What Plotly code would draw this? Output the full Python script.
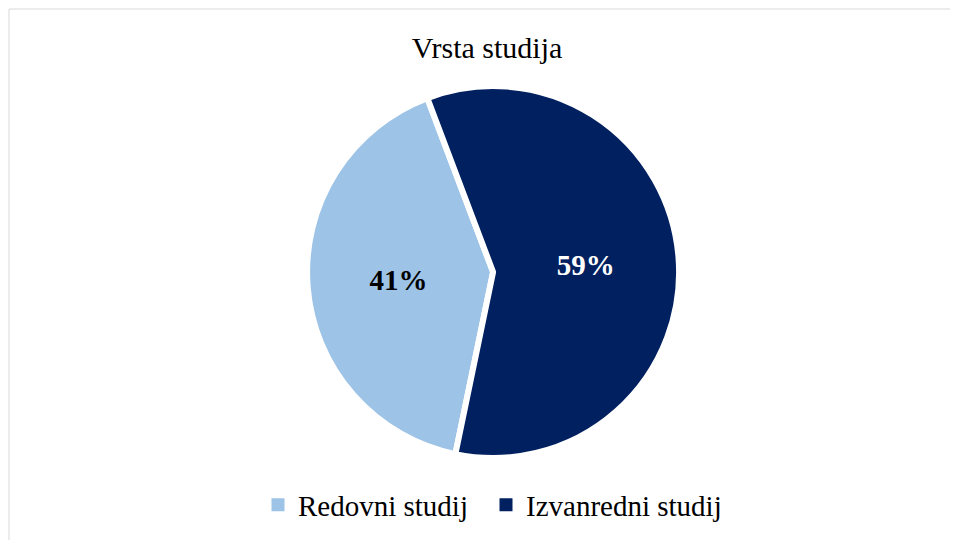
import plotly.graph_objects as go

labels = ["Redovni studij", "Izvanredni studij"]
values = [41, 59]
colors = ["#9DC3E6", "#002060"]
text_colors = ["#000000", "#FFFFFF"]

SERIF = "Liberation Serif, Times New Roman, serif"

fig = go.Figure()
fig.add_trace(go.Pie(
    labels=labels,
    values=values,
    sort=False,
    direction="clockwise",
    rotation=191.7,
    marker=dict(colors=colors, line=dict(color="white", width=6)),
    texttemplate="<b>%{percent:.0%}</b>",
    textposition="inside",
    insidetextorientation="horizontal",
    textfont=dict(family=SERIF, size=29, color=text_colors),
    domain=dict(x=[0.3122, 0.7005], y=[0.166, 0.856]),
    hoverinfo="label+percent",
    showlegend=False,
))

# legend entries (square swatches), one legend box per entry
legend_names = ["legend", "legend2"]
for lab, col, lg in zip(labels, colors, legend_names):
    fig.add_trace(go.Scatter(
        x=[None], y=[None], mode="markers", name=lab,
        marker=dict(symbol="square", size=13, color=col),
        showlegend=True, legend=lg,
    ))

legend_style = dict(orientation="h", xanchor="left", y=1 - 497/540, yanchor="middle",
                    font=dict(family=SERIF, size=29, color="#000000"),
                    itemwidth=30, bgcolor="rgba(0,0,0,0)")

fig.update_layout(
    width=958, height=540,
    margin=dict(l=0, r=0, t=0, b=0),
    paper_bgcolor="white",
    plot_bgcolor="white",
    xaxis=dict(visible=False),
    yaxis=dict(visible=False),
    font=dict(family=SERIF, color="#000000"),
    title=dict(text="Vrsta studija", x=0.5, xanchor="center", y=1 - 39/540, yanchor="middle",
               font=dict(family=SERIF, size=30, color="#000000")),
    legend=dict(x=250 / 958, **legend_style),
    legend2=dict(x=478 / 958, **legend_style),
    shapes=[dict(type="rect", xref="paper", yref="paper", x0=1/958, x1=1.05, y0=-0.05, y1=1 - 1/540,
                 line=dict(color="#D9D9D9", width=1), fillcolor="rgba(0,0,0,0)", layer="below")],
)

fig.write_html("out.html")
